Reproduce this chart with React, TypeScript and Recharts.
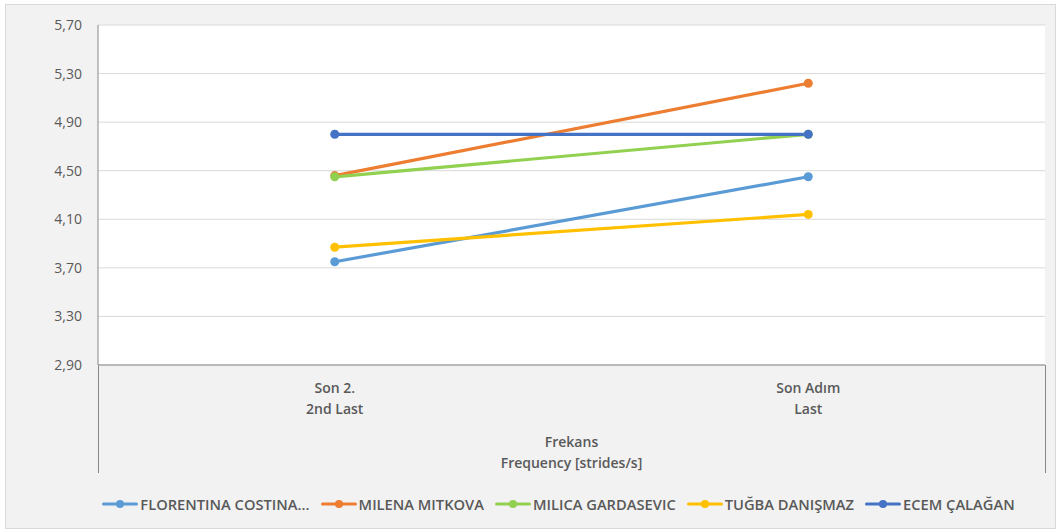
import React from "react";
import { LineChart, Line, XAxis, YAxis, CartesianGrid, Legend } from "recharts";

const categoriesTop = ["Son 2.", "Son Adım"];
const categoriesBottom = ["2nd Last", "Last"];
const axisTitle = ["Frekans", "Frequency [strides/s]"];

const seriesNames = [
  "FLORENTINA COSTINA...",
  "MILENA MITKOVA",
  "MILICA GARDASEVIC",
  "TUĞBA DANIŞMAZ",
  "ECEM ÇALAĞAN",
];
const seriesColors = ["#5B9BD5", "#ED7D31", "#92D050", "#FFC000", "#4472C4"];

const florentina = [3.75, 4.45];
const milena = [4.46, 5.22];
const milica = [4.45, 4.8];
const tugba = [3.87, 4.14];
const ecem = [4.8, 4.8];

const yTicks = [2.9, 3.3, 3.7, 4.1, 4.5, 4.9, 5.3, 5.7];

const seriesValues = [florentina, milena, milica, tugba, ecem];
const keys = ["s0", "s1", "s2", "s3", "s4"];

const data = categoriesTop.map((c, i) => {
  const row: Record<string, any> = { cat: c, idx: i };
  seriesValues.forEach((vals, s) => {
    row[keys[s]] = vals[i];
  });
  return row;
});

const FONT = "'Open Sans', sans-serif";
const TEXT = "#595959";
const CAT_FS = 14;

const CatTick = (props: any) => {
  const { x, payload } = props;
  const i = payload.index;
  return (
    <g>
      <text x={x} y={387} textAnchor="middle" dominantBaseline="central" fill={TEXT} fontFamily={FONT} fontSize={CAT_FS} fontWeight={600}>
        {categoriesTop[i]}
      </text>
      <text x={x} y={408} textAnchor="middle" dominantBaseline="central" fill={TEXT} fontFamily={FONT} fontSize={CAT_FS} fontWeight={600}>
        {categoriesBottom[i]}
      </text>
    </g>
  );
};

const AxisTitle = (props: any) => {
  const vb = props.viewBox || {};
  const cx = vb.x + vb.width / 2;
  return (
    <g>
      <text x={cx} y={441} textAnchor="middle" dominantBaseline="central" fill={TEXT} fontFamily={FONT} fontSize={CAT_FS} fontWeight={600}>
        {axisTitle[0]}
      </text>
      <text x={cx} y={462} textAnchor="middle" dominantBaseline="central" fill={TEXT} fontFamily={FONT} fontSize={CAT_FS} fontWeight={600}>
        {axisTitle[1]}
      </text>
    </g>
  );
};

const LegendContent = () => (
  <div
    style={{
      display: "flex",
      justifyContent: "center",
      alignItems: "center",
      width: "100%",
      paddingLeft: 58,
      boxSizing: "border-box",
      fontFamily: FONT,
      fontSize: 14.7,
      fontWeight: 600,
      color: TEXT,
      whiteSpace: "nowrap",
    }}
  >
    {seriesNames.map((n, i) => (
      <div key={n} style={{ display: "flex", alignItems: "center", marginRight: i < seriesNames.length - 1 ? 11 : 0 }}>
        <svg width={36} height={10} style={{ marginRight: 2 }}>
          <line x1={1.5} y1={5} x2={34.5} y2={5} stroke={seriesColors[i]} strokeWidth={3} strokeLinecap="round" />
          <circle cx={18} cy={5} r={4} fill={seriesColors[i]} />
        </svg>
        <span>{n}</span>
      </div>
    ))}
  </div>
);

export default function App() {
  return (
    <div style={{ position: "absolute", left: 0, top: 0, width: 1059, height: 531, background: "#fff" }}>
      <div
        style={{
          position: "absolute",
          left: 5,
          top: 4,
          width: 1051,
          height: 525,
          background: "#f2f2f2",
          border: "1px solid #d9d9d9",
          boxSizing: "border-box",
        }}
      />
      <div style={{ position: "absolute", left: 98, top: 365, width: 1, height: 108, background: "#898989" }} />
      <div style={{ position: "absolute", left: 1045, top: 365, width: 1, height: 108, background: "#898989" }} />
      <div style={{ position: "absolute", left: 0, top: 0 }}>
        <LineChart width={1059} height={531} data={data} margin={{ top: 25, right: 14, bottom: 56, left: 0 }}>
          <CartesianGrid vertical={false} fill="#ffffff" stroke="#d9d9d9" strokeWidth={1} />
          <XAxis
            dataKey="cat"
            scale="band"
            height={110}
            axisLine={{ stroke: "#898989", strokeWidth: 1 }}
            tickLine={false}
            tick={<CatTick />}
            interval={0}
            label={<AxisTitle />}
          />
          <YAxis
            width={98}
            domain={[2.9, 5.7]}
            ticks={yTicks}
            axisLine={{ stroke: "#898989", strokeWidth: 1 }}
            tickLine={false}
            tickMargin={10}
            tick={{ fill: TEXT, fontSize: 14, fontFamily: FONT }}
            tickFormatter={(v: number) => v.toFixed(2).replace(".", ",")}
          />
          {keys.map((k, i) => (
            <Line
              key={k}
              dataKey={k}
              name={seriesNames[i]}
              stroke={seriesColors[i]}
              strokeWidth={3.2}
              dot={{ r: 4.5, fill: seriesColors[i], stroke: seriesColors[i], strokeWidth: 0 }}
              activeDot={false}
              isAnimationActive={false}
            />
          ))}
          <Legend
            layout="horizontal"
            verticalAlign="middle"
            align="center"
            content={<LegendContent />}
            wrapperStyle={{ position: "absolute", top: 494, left: 0, width: 1059 }}
          />
        </LineChart>
      </div>
    </div>
  );
}
